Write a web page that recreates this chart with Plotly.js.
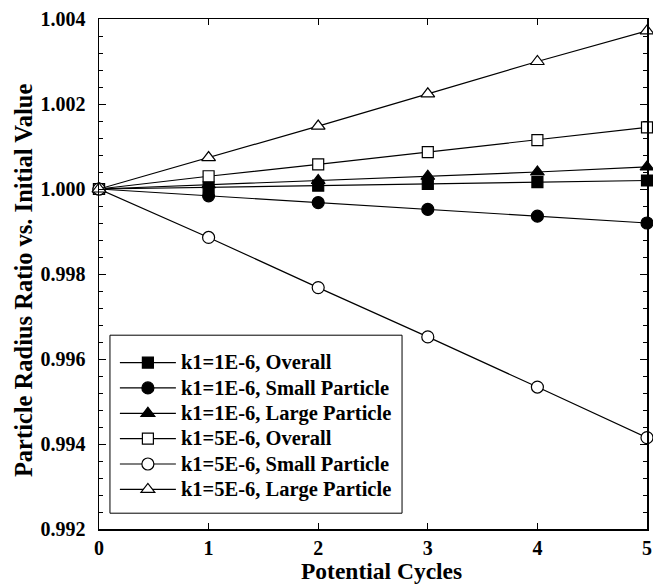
<!DOCTYPE html>
<html>
<head>
<meta charset="utf-8">
<script src="https://cdn.plot.ly/plotly-3.0.1.min.js"></script>
<style>html,body{margin:0;padding:0;background:#fff;}#chart{width:653px;height:584px;}</style>
</head>
<body>
<div id="chart"></div>
<script>
const cycles = [0, 1, 2, 3, 4, 5];
const k1a_overall = [1.0, 1.00004, 1.00008, 1.00012, 1.00016, 1.0002];
const k1a_small   = [1.0, 0.99984, 0.99968, 0.99952, 0.99936, 0.9992];
const k1a_large   = [1.0, 1.0001, 1.0002, 1.0003, 1.0004, 1.00052];
const k1b_overall = [1.0, 1.00030, 1.00058, 1.00087, 1.00115, 1.00145];
const k1b_small   = [1.0, 0.99886, 0.99768, 0.99652, 0.99534, 0.99415];
const k1b_large   = [1.0, 1.00074, 1.00148, 1.00224, 1.0030, 1.00372];
const names = ["k1=1E-6, Overall","k1=1E-6, Small Particle","k1=1E-6, Large Particle",
               "k1=5E-6, Overall","k1=5E-6, Small Particle","k1=5E-6, Large Particle"];
const xTitle = "Potential Cycles";
const yTitle = "Particle Radius Ratio vs. Initial Value";
const series = [k1a_overall,k1a_small,k1a_large,k1b_overall,k1b_small,k1b_large];
const symbols = ["square","circle","triangle-up","square-open","circle-open","triangle-up-open"];
const sizes = [11,12,12,11,12,12];

const traces = series.map((ys,i)=>({
  x: cycles, y: ys, name: '<span style="font-size:20.5px">' + names[i] + '</span>',
  type:'scatter', mode:'lines+markers',
  legendgroup: 'g'+i, cliponaxis:false,
  line:{color:'#000', width:1.2},
  marker:{symbol: symbols[i].replace('-open',''), size:sizes[i],
          color: symbols[i].includes('open') ? '#fff' : '#000',
          line:{color:'#000', width:1.2}}
}));
const fam = '"Liberation Serif", "Times New Roman", serif';
const layout = {
  width:653, height:584,
  margin:{l:99, r:6, t:19, b:55},
  paper_bgcolor:'#fff', plot_bgcolor:'#fff',
  showlegend:true,
  shapes:[{type:'rect', xref:'paper', yref:'paper', x0:0.020, x1:0.553, y0:0.031, y1:0.380,
           line:{color:'#000', width:1}, fillcolor:'#fff', layer:'above'}],
  legend:{x:0.029, y:0.361, xanchor:'left', yanchor:'top', bgcolor:'rgba(0,0,0,0)',
          borderwidth:0, tracegroupgap:0, itemwidth:56,
          font:{family:fam, size:17.2, color:'#000', weight:700}},
  annotations:[
    {text:xTitle, xref:'paper', yref:'paper', x:0.5146, y:-0.0824, xanchor:'center', yanchor:'middle',
     showarrow:false, font:{family:fam, size:23.5, color:'#000', weight:700}},
    {text:yTitle, xref:'paper', yref:'paper', x:-0.1387, y:0.488, xanchor:'center', yanchor:'middle',
     textangle:-90, showarrow:false, font:{family:fam, size:24.5, color:'#000', weight:700}}
  ],
  xaxis:{range:[0,5], dtick:1, tick0:0, showline:true, linecolor:'#000', linewidth:1.5,
         mirror:'allticks', ticks:'inside', ticklen:6, tickcolor:'#000', tickwidth:1,
         showgrid:false, zeroline:false,
         tickfont:{family:fam, size:20, color:'#000', weight:700}},
  yaxis:{range:[0.992,1.004], dtick:0.002, tick0:0.992, tickformat:'.3f', showline:true, linecolor:'#000', linewidth:1.5,
         mirror:'allticks', ticks:'inside', ticklen:7, tickcolor:'#000', tickwidth:1,
         ticklabelstandoff:8,
         minor:{dtick:0.0004, ticks:'inside', ticklen:4, tickcolor:'#000', tickwidth:1, showgrid:false},
         showgrid:false, zeroline:false,
         tickfont:{family:fam, size:20, color:'#000', weight:700}}
};
Plotly.newPlot('chart', traces, layout, {displayModeBar:false, staticPlot:true});
</script>
</body>
</html>
